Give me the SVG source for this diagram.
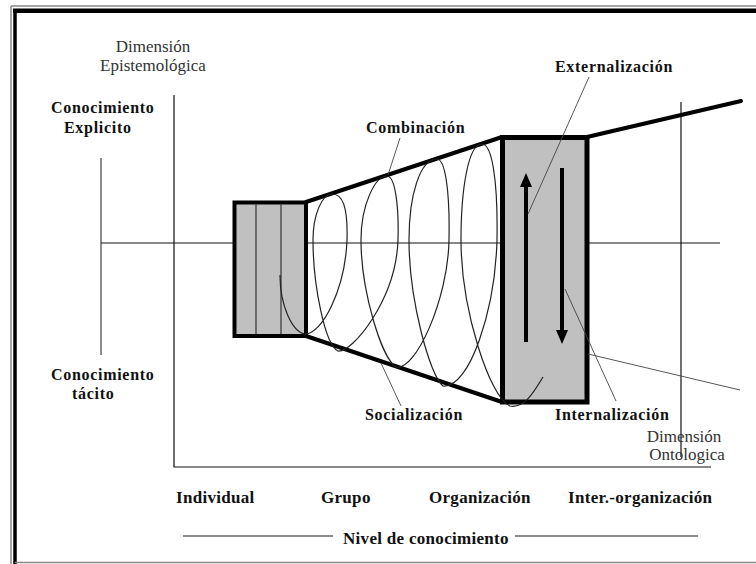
<svg xmlns="http://www.w3.org/2000/svg" width="756" height="564" viewBox="0 0 756 564">
<style>
.rg{font-family:"Liberation Serif","Times New Roman",serif;font-size:17px;fill:#333}
.bd{font-family:"Liberation Serif","Times New Roman",serif;font-size:16px;font-weight:bold;fill:#111;letter-spacing:0.7px}
.bl{font-family:"Liberation Serif","Times New Roman",serif;font-size:17px;font-weight:bold;fill:#111;letter-spacing:0.3px}
.ax{stroke:#111;stroke-width:1.2;fill:none}
.ld{stroke:#444;stroke-width:0.9;fill:none}
.thick{stroke:#000;stroke-width:4;fill:none;stroke-linecap:round}
.box{fill:#c0c0c0;stroke:#000}
.sp{stroke:#222;stroke-width:1.2;fill:none}
</style>
<defs>
<marker id="ah" viewBox="0 0 14 12" refX="0" refY="6" markerWidth="14" markerHeight="12" markerUnits="userSpaceOnUse" orient="auto">
<path d="M0,0 L14,6 L0,12 z" fill="#000"/>
</marker>
</defs>
<rect x="0" y="0" width="756" height="564" fill="#fff"/>
<g id="frame">
<line x1="11" y1="6" x2="756" y2="6" stroke="#888" stroke-width="1.5"/>
<line x1="11" y1="6" x2="11" y2="564" stroke="#888" stroke-width="1.5"/>
<line x1="13" y1="10.8" x2="756" y2="10.8" stroke="#000" stroke-width="4.5"/>
<line x1="15" y1="9" x2="15" y2="564" stroke="#000" stroke-width="3.5"/>
<line x1="15" y1="562.5" x2="756" y2="562.5" stroke="#888" stroke-width="1.5"/>
</g>
<g id="axes">
<line x1="101" y1="158" x2="101" y2="355" stroke="#666" stroke-width="1.5"/>
<polyline class="ax" points="174,95 174,467 711,467"/>
<line class="ax" x1="101" y1="243" x2="720" y2="243"/>
<line class="ax" x1="681" y1="102" x2="681" y2="457"/>
<line x1="183" y1="536" x2="333" y2="536" stroke="#666" stroke-width="1.5"/>
<line x1="515" y1="536" x2="698" y2="536" stroke="#666" stroke-width="1.5"/>
</g>
<g id="cone">
<line class="thick" x1="306" y1="202" x2="502" y2="137"/>
<line class="thick" x1="306" y1="336" x2="502" y2="402"/>
<line class="thick" x1="587" y1="137" x2="741" y2="101"/>
</g>
<g id="box-individual">
<rect class="box" x="234.5" y="202.5" width="71.5" height="133.5" stroke-width="4"/>
<line x1="256" y1="204.5" x2="256" y2="334" stroke="#333" stroke-width="1.2"/>
<line x1="281" y1="204.5" x2="281" y2="334" stroke="#333" stroke-width="1.2"/>
</g>
<g id="box-organizacion">
<rect class="box" x="502.5" y="137.5" width="84.5" height="264.5" stroke-width="5"/>
</g>
<g id="spiral">
<path class="sp" d="M280,275 C280,305 292,332 305,334 C322,334 345,290 347,240 C348,205 342,194 332,194 C322,194 313,215 313,240 C313,285 325,345 338,351 C352,353 396,300 398,240 C399,205 395,176 387,176 C375,176 361,205 361,240 C361,290 381,357 396,367 C415,372 448,300 449,240 C450,190 445,159 437,159 C420,159 409,195 409,240 C409,300 430,376 443,386 C470,388 495,310 497,240 C498,180 492,144 482,144 C468,144 461,190 461,240 C461,310 490,398 510,406 C525,409 535,390 543,377"/>
</g>
<g id="arrows">
<line x1="526" y1="342" x2="526" y2="187" stroke="#000" stroke-width="4" marker-end="url(#ah)"/>
<line x1="562" y1="168" x2="562" y2="330" stroke="#000" stroke-width="4" marker-end="url(#ah)"/>
</g>
<g id="leaders">
<line class="ld" x1="400" y1="138" x2="388" y2="175"/>
<line class="ld" x1="381" y1="363" x2="401" y2="406"/>
<line class="ld" x1="589" y1="77" x2="528" y2="214"/>
<line class="ld" x1="565" y1="289" x2="616" y2="401"/>
<line class="ld" x1="588" y1="354" x2="740" y2="390"/>
</g>
<g id="labels">
<text class="rg" x="153" y="52" text-anchor="middle">Dimensión</text>
<text class="rg" x="153" y="71" text-anchor="middle">Epistemológica</text>
<text class="bd" x="51" y="113">Conocimiento</text>
<text class="bd" x="64" y="133">Explicito</text>
<text class="bd" x="51" y="380">Conocimiento</text>
<text class="bd" x="72" y="399">tácito</text>
<text class="bd" x="366" y="133">Combinación</text>
<text class="bd" x="555" y="72">Externalización</text>
<text class="bd" x="365" y="420">Socialización</text>
<text class="bd" x="555" y="420">Internalización</text>
<text class="rg" x="684" y="442" text-anchor="middle">Dimensión</text>
<text class="rg" x="687" y="460" text-anchor="middle">Ontologica</text>
<text class="bl" x="176" y="503">Individual</text>
<text class="bl" x="321" y="503">Grupo</text>
<text class="bl" x="429" y="503">Organización</text>
<text class="bl" x="568" y="503">Inter.-organización</text>
<text class="bl" x="343" y="544" letter-spacing="0.2">Nivel de conocimiento</text>
</g>
</svg>
